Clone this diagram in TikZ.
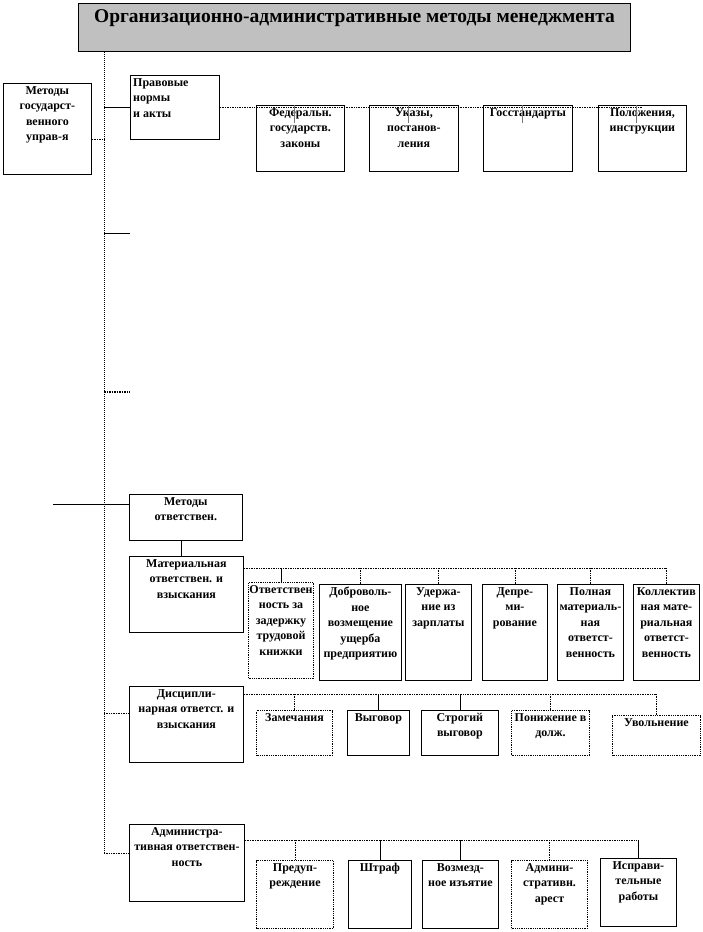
\documentclass[tikz,border=0pt]{standalone}
\usepackage{fontspec}
\setmainfont{Liberation Serif}
\usetikzlibrary{positioning}
\definecolor{titlegray}{RGB}{192, 192, 192}
\definecolor{tickgray}{RGB}{120, 120, 120}

\begin{document}
\begin{tikzpicture}[
    x=1pt, y=-1pt,
    box/.style={anchor=north west, inner sep=0pt, line width=0.8pt},
    sbox/.style={box, draw},
    dbox/.style={box, draw, densely dotted, line width=1pt},
    titlebox/.style={box, draw, fill=titlegray, line width=1pt},
    txt/.style={anchor=north, align=center, inner sep=3pt, font=\fontsize{12}{15.5}\selectfont\bfseries},
    conn/.style={densely dotted, line width=0.7pt},
    sconn/.style={line width=0.7pt},
    tick/.style={tickgray, line width=0.7pt},
]
\useasboundingbox (0,0) rectangle (702,932);

% ======= TITLE =======
\node[titlebox, minimum width=552, minimum height=48,
      label={[txt, inner sep=6pt, font=\fontsize{19.5}{21}\selectfont\bfseries]north:Организационно-административные методы менеджмента}] (Title) at (78,3) {};

% ======= TRUNK =======
\coordinate (T-end) at (104,853);
\draw[conn, line width=1pt] (T-end |- Title.south) -- (T-end);

% ======= STATE METHODS / LAW =======
\node[sbox, minimum width=88, minimum height=91,
      label={[txt]north:Методы\\государст-\\венного\\управ-я}] (Gos) at (3,83) {};
\coordinate (G-stub) at (104,139);
\draw[conn] (Gos.east |- G-stub) -- (G-stub);

\node[sbox, minimum width=89, minimum height=64,
      label={[txt, anchor=north west, align=left, inner sep=3pt]north west:Правовые\\нормы\\и акты}] (Pravo) at (130,75) {};
\draw[sconn] (Pravo.west -| T-end) -- (Pravo.west);

\foreach \n/\x/\w/\t in {F1/256/88/{Федеральн.\\государств.\\законы},
                         F2/369/89/{Указы,\\постанов-\\ления},
                         F3/483/89/{Госстандарты},
                         F4/598/88/{Положения,\\инструкции}} {
    \node[sbox, minimum width=\w, minimum height=66, label={[txt]north:\t}] (\n) at (\x,105) {};
}
\draw[conn] (Pravo.east) -- (Pravo.east -| F4.north);
\foreach \n in {F1,F2,F3,F4} {
    \draw[tick] ([xshift=-6]\n.north) -- ++(0,18);
}

% ======= EMPTY STUBS =======
\coordinate (S1) at (104,233);
\coordinate (S2) at (104,392);
\draw[sconn] (S1) -- ++(26,0);
\draw[conn, line width=1.5pt] (S2) -- ++(26,0);

% ======= RESPONSIBILITY =======
\node[sbox, minimum width=113, minimum height=46,
      label={[txt]north:Методы\\ответствен.}] (Otv) at (129,494) {};
\coordinate (O-in) at (53,504);
\draw[sconn] (O-in) -- (O-in -| Otv.west);

% --- material ---
\node[sbox, minimum width=114, minimum height=76,
      label={[txt]north:Материальная\\ответствен. и\\взыскания}] (Mat) at (129,556) {};
\draw[sconn] ([xshift=-5]Otv.south) -- ([xshift=-5]Otv.south |- Mat.north);

\foreach \n/\x/\y/\w/\s/\t in {M1/248/582/65/dbox/{Ответствен\\ность за\\задержку\\трудовой\\книжки},
                               M2/319/584/82/sbox/{Доброволь-\\ное\\возмещение\\ущерба\\предприятию},
                               M3/405/584/66/sbox/{Удержа-\\ние из\\зарплаты},
                               M4/482/584/65/sbox/{Депре-\\ми-\\рование},
                               M5/557/584/66/sbox/{Полная\\материаль-\\ная\\ответст-\\венность},
                               M6/633/584/66/sbox/{Коллектив\\ная мате-\\риальная\\ответст-\\венность}} {
    \node[\s, minimum width=\w, minimum height=96, label={[txt]north:\t}] (\n) at (\x,\y) {};
}
\coordinate (M-row) at (0,568);
\draw[conn] (Mat.east |- M-row) -- (M-row -| M6.north);
\foreach \n/\s in {M1/sconn, M2/conn, M3/conn, M4/conn, M5/conn, M6/conn} {
    \draw[\s] (M-row -| \n.north) -- (\n.north);
}

% --- disciplinary ---
\node[sbox, minimum width=114, minimum height=76,
      label={[txt]north:Дисципли-\\нарная ответст. и\\взыскания}] (Disc) at (129,686) {};
\coordinate (D-stub) at (104,713);
\draw[conn] (D-stub) -- (D-stub -| Disc.west);

\foreach \n/\x/\y/\w/\h/\s/\t in {D1/256/710/76/45/dbox/{Замечания},
                                  D2/347/710/62/45/sbox/{Выговор},
                                  D3/421/710/77/45/sbox/{Строгий\\выговор},
                                  D4/511/710/78/45/dbox/{Понижение в\\долж.},
                                  D5/612/715/88/40/dbox/{Увольнение}} {
    \node[\s, minimum width=\w, minimum height=\h, label={[txt]north:\t}] (\n) at (\x,\y) {};
}
\coordinate (D-row) at (0,694);
\draw[conn] (Disc.east |- D-row) -- (D-row -| D5.north);
\foreach \n/\s in {D1/conn, D2/sconn, D3/sconn, D4/conn, D5/conn} {
    \draw[\s] (D-row -| \n.north) -- (\n.north);
}

% --- administrative ---
\node[sbox, minimum width=115, minimum height=77,
      label={[txt]north:Администра-\\тивная ответствен-\\ность}] (Adm) at (129,824) {};
\draw[conn] (T-end) -- (T-end -| Adm.west);

\foreach \n/\x/\y/\w/\s/\t in {A1/256/860/77/dbox/{Предуп-\\реждение},
                               A2/348/860/63/sbox/{Штраф},
                               A3/422/860/76/sbox/{Возмезд-\\ное изъятие},
                               A4/511/860/76/dbox/{Админи-\\стративн.\\арест},
                               A5/600/858/76/sbox/{Исправи-\\тельные\\работы}} {
    \node[\s, minimum width=\w, minimum height=68, label={[txt]north:\t}] (\n) at (\x,\y) {};
}
\coordinate (A-row) at (0,840);
\draw[conn] (Adm.east |- A-row) -- (A-row -| A5.north);
\foreach \n/\s in {A1/conn, A2/sconn, A3/sconn, A4/conn, A5/sconn} {
    \draw[\s] (A-row -| \n.north) -- (\n.north);
}

\end{tikzpicture}
\end{document}
